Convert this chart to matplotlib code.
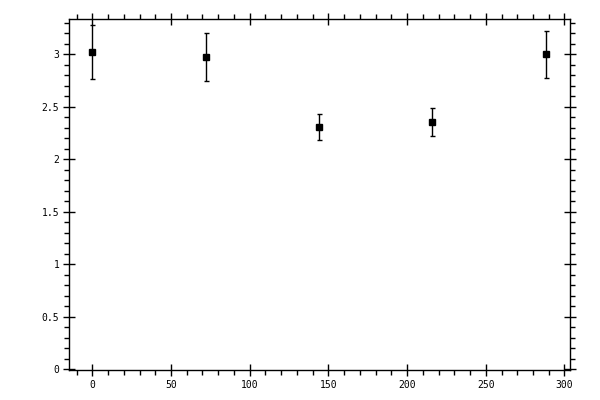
import matplotlib
matplotlib.use('Agg')
import matplotlib.pyplot as plt
from matplotlib.ticker import MultipleLocator, FormatStrFormatter

# Data
angles = [0, 72, 144, 216, 288]
values = [3.02, 2.97, 2.305, 2.352, 3.00]
errors = [0.257, 0.229, 0.124, 0.133, 0.224]

fig = plt.figure(figsize=(6, 4), dpi=100)
ax = fig.add_axes([0.115, 0.075, 0.835, 0.877])

# Square markers with vertical error bars
ax.errorbar(angles, values, yerr=errors, fmt='s', color='black',
            markersize=5.0, ecolor='black', elinewidth=1.0,
            capsize=1.8, capthick=1.0)

ax.set_xlim(-14.8, 303.5)
ax.set_ylim(-0.005, 3.333)

# Ticks on all four sides
ax.xaxis.set_major_locator(MultipleLocator(50))
ax.xaxis.set_minor_locator(MultipleLocator(10))
ax.yaxis.set_major_locator(MultipleLocator(0.5))
ax.yaxis.set_minor_locator(MultipleLocator(0.1))
ax.xaxis.set_major_formatter(FormatStrFormatter('%g'))
ax.yaxis.set_major_formatter(FormatStrFormatter('%g'))

ax.tick_params(which='major', direction='inout', length=8, width=1.0,
               top=True, right=True, labelsize=7, pad=3)
ax.tick_params(which='minor', direction='out', length=3.5, width=1.0,
               top=True, right=True)
for label in ax.get_xticklabels() + ax.get_yticklabels():
    label.set_family('DejaVu Sans Mono')

for spine in ax.spines.values():
    spine.set_linewidth(1.0)

fig.savefig('out.png', dpi=100)
